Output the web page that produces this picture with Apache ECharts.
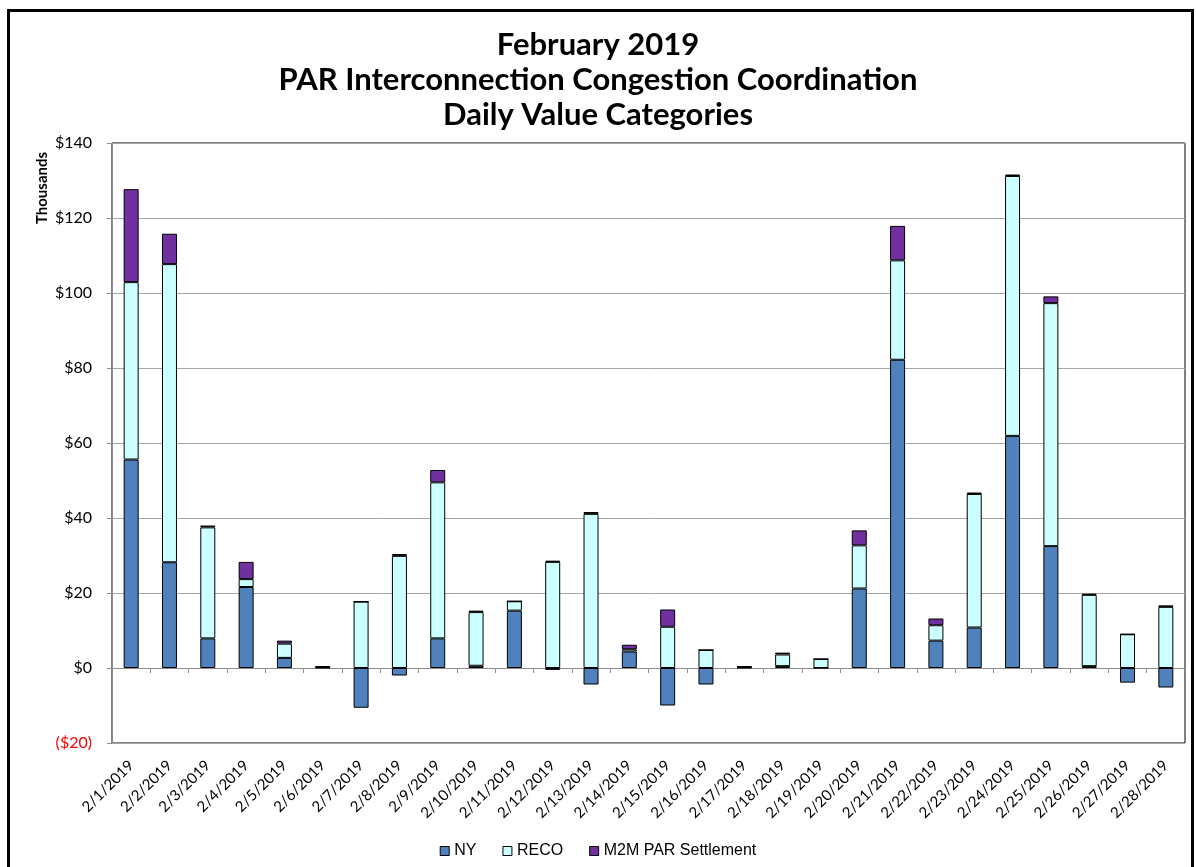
<!DOCTYPE html>
<html>
<head>
<meta charset="utf-8">
<title>PAR Interconnection Congestion Coordination</title>
<script src="https://cdn.jsdelivr.net/npm/echarts@6/dist/echarts.min.js"></script>
<style>
  html, body { margin: 0; padding: 0; background: #fff; }
  #chart { width: 1196px; height: 867px; }
</style>
</head>
<body>
<div id="chart"></div>
<script>
// values in $ thousands
const days = [
  '2/1/2019', '2/2/2019', '2/3/2019', '2/4/2019', '2/5/2019', '2/6/2019', '2/7/2019',
  '2/8/2019', '2/9/2019', '2/10/2019', '2/11/2019', '2/12/2019', '2/13/2019', '2/14/2019',
  '2/15/2019', '2/16/2019', '2/17/2019', '2/18/2019', '2/19/2019', '2/20/2019', '2/21/2019',
  '2/22/2019', '2/23/2019', '2/24/2019', '2/25/2019', '2/26/2019', '2/27/2019', '2/28/2019'
];
const ny = [55.6, 28.2, 7.9, 21.6, 2.7, 0.1, -10.6, -2.0, 7.9, 0.6, 15.3, -0.5, -4.4, 4.4,
  -10.0, -4.4, 0.1, 0.5, 0, 21.2, 82.2, 7.3, 10.8, 61.9, 32.5, 0.5, -3.9, -5.2];
const reco = [47.3, 79.5, 29.6, 2.1, 3.8, 0.2, 17.7, 29.9, 41.6, 14.3, 2.5, 28.3, 41.1, 0.6,
  11.0, 4.8, 0.2, 3.1, 2.4, 11.5, 26.5, 4.1, 35.6, 69.3, 64.8, 19.0, 9.0, 16.3];
const m2m = [24.8, 8.1, 0.5, 4.6, 0.8, 0.1, 0, 0.5, 3.3, 0.4, 0, 0.3, 0.5, 1.2,
  4.6, 0, 0.1, 0.5, 0, 4.0, 9.2, 1.8, 0.4, 0.4, 1.8, 0.3, 0, 0.4];
const seriesNames = ['NY', 'RECO', 'M2M PAR Settlement'];
const colors = ['#4F81BD', '#CCFFFF', '#7030A0'];

const chart = echarts.init(document.getElementById('chart'));

const makeBar = (name, data, i) => ({
  name: name,
  type: 'bar',
  stack: 'total',
  barWidth: 15,
  data: data,
  itemStyle: {
    color: colors[i],
    borderColor: '#000',
    borderWidth: 1
  }
});

const option = {
  animation: false,
  backgroundColor: '#fff',
  title: {
    text: 'February 2019\nPAR Interconnection Congestion Coordination\nDaily Value Categories',
    left: 'center',
    top: 22,
    textStyle: {
      fontFamily: 'Lato',
      fontWeight: 'bold',
      fontSize: 31,
      lineHeight: 35,
      color: '#000'
    }
  },
  graphic: [
    {
      type: 'rect',
      shape: { x: 8.5, y: 10.5, width: 1184, height: 880 },
      style: { fill: 'none', stroke: '#000', lineWidth: 3 },
      silent: true
    },
    {
      type: 'text',
      x: 42,
      y: 188,
      rotation: Math.PI / 2,
      style: {
        text: 'Thousands',
        font: 'bold 15px Lato',
        fill: '#000',
        align: 'center',
        verticalAlign: 'middle'
      }
    }
  ],
  legend: {
    data: seriesNames,
    bottom: 3,
    left: 'center',
    icon: 'rect',
    itemWidth: 9,
    itemHeight: 9,
    itemGap: 26,
    itemStyle: { borderColor: '#000', borderWidth: 1 },
    textStyle: { fontFamily: 'Liberation Sans', fontSize: 16, color: '#000' }
  },
  grid: {
    left: 112,
    right: 11,
    top: 143,
    bottom: 124,
    outerBoundsMode: 'none',
    show: true,
    borderColor: '#000',
    borderWidth: 1
  },
  xAxis: {
    type: 'category',
    data: days,
    axisLine: { onZero: true, lineStyle: { color: '#8C8C8C', width: 1 } },
    axisTick: { show: true, length: 5, lineStyle: { color: '#8C8C8C' } },
    axisLabel: {
      rotate: 45,
      interval: 0,
      margin: 20,
      fontFamily: 'Lato',
      fontSize: 15,
      color: '#000'
    },
    splitLine: { show: false }
  },
  yAxis: {
    type: 'value',
    min: -20,
    max: 140,
    interval: 20,
    axisLine: { show: true, lineStyle: { color: '#8C8C8C' } },
    axisTick: { show: true, length: 5, lineStyle: { color: '#8C8C8C' } },
    axisLabel: {
      margin: 20,
      fontFamily: 'Lato',
      fontSize: 16,
      formatter: v => (v < 0 ? '($' + (-v) + ')' : '$' + v),
      color: v => (v < 0 ? '#FF0000' : '#000')
    },
    splitLine: { lineStyle: { color: '#A6A6A6', width: 1 } }
  },
  series: [
    makeBar(seriesNames[0], ny, 0),
    makeBar(seriesNames[1], reco, 1),
    makeBar(seriesNames[2], m2m, 2)
  ]
};

chart.setOption(option);
</script>
</body>
</html>
